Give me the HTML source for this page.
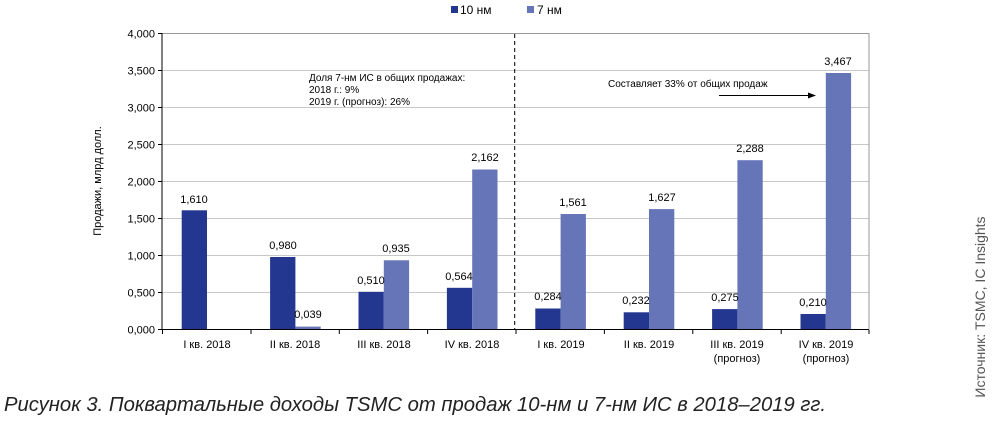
<!DOCTYPE html>
<html><head><meta charset="utf-8"><style>
body{margin:0;background:#fff;}
svg{display:block;font-family:"Liberation Sans",sans-serif;}
</style></head><body>
<svg width="1001" height="426" viewBox="0 0 1001 426">
<g stroke="#c8c8c8" stroke-width="1">
<line x1="162" y1="70.5" x2="869" y2="70.5"/><line x1="162" y1="107.5" x2="869" y2="107.5"/>
<line x1="162" y1="144.5" x2="869" y2="144.5"/><line x1="162" y1="181.5" x2="869" y2="181.5"/>
<line x1="162" y1="218.5" x2="869" y2="218.5"/><line x1="162" y1="255.5" x2="869" y2="255.5"/>
<line x1="162" y1="292.5" x2="869" y2="292.5"/>
</g>
<polyline points="162,33.5 869,33.5 869,329.5" fill="none" stroke="#999" stroke-width="1"/>
<line x1="514.7" y1="34" x2="514.7" y2="329" stroke="#000" stroke-dasharray="4,3" stroke-width="1"/>
<g id="bars">
<rect x="181.7" y="210.3" width="25.3" height="119.2" fill="#233690"/>
<rect x="270.1" y="257" width="25.3" height="72.5" fill="#233690"/>
<rect x="295.4" y="326.6" width="25.3" height="2.9" fill="#6674b8"/>
<rect x="358.5" y="291.8" width="25.3" height="37.7" fill="#233690"/>
<rect x="383.8" y="260.3" width="25.3" height="69.2" fill="#6674b8"/>
<rect x="446.9" y="287.8" width="25.3" height="41.7" fill="#233690"/>
<rect x="472.2" y="169.5" width="25.3" height="160" fill="#6674b8"/>
<rect x="535.3" y="308.5" width="25.3" height="21" fill="#233690"/>
<rect x="560.6" y="214" width="25.3" height="115.5" fill="#6674b8"/>
<rect x="623.7" y="312.3" width="25.3" height="17.2" fill="#233690"/>
<rect x="649" y="209.1" width="25.3" height="120.4" fill="#6674b8"/>
<rect x="712.1" y="309.1" width="25.3" height="20.4" fill="#233690"/>
<rect x="737.4" y="160.2" width="25.3" height="169.3" fill="#6674b8"/>
<rect x="800.5" y="314" width="25.3" height="15.5" fill="#233690"/>
<rect x="825.8" y="73" width="25.3" height="256.5" fill="#6674b8"/>
</g>
<g stroke="#000" stroke-width="1">
<line x1="162" y1="33" x2="162" y2="330"/><line x1="158" y1="329.5" x2="869" y2="329.5"/>
<line x1="158" y1="33.5" x2="162" y2="33.5"/><line x1="158" y1="70.5" x2="162" y2="70.5"/><line x1="158" y1="107.5" x2="162" y2="107.5"/><line x1="158" y1="144.5" x2="162" y2="144.5"/><line x1="158" y1="181.5" x2="162" y2="181.5"/><line x1="158" y1="218.5" x2="162" y2="218.5"/><line x1="158" y1="255.5" x2="162" y2="255.5"/><line x1="158" y1="292.5" x2="162" y2="292.5"/>
<line x1="162.5" y1="330" x2="162.5" y2="334"/><line x1="251" y1="330" x2="251" y2="334"/><line x1="339.3" y1="330" x2="339.3" y2="334"/><line x1="427.6" y1="330" x2="427.6" y2="334"/><line x1="516" y1="330" x2="516" y2="334"/><line x1="604.4" y1="330" x2="604.4" y2="334"/><line x1="692.8" y1="330" x2="692.8" y2="334"/><line x1="781.2" y1="330" x2="781.2" y2="334"/><line x1="869" y1="330" x2="869" y2="334"/>
</g>
<g font-size="11" fill="#000" text-anchor="end">
<text x="155" y="37.5">4,000</text><text x="155" y="74.5">3,500</text><text x="155" y="111.5">3,000</text><text x="155" y="148.5">2,500</text><text x="155" y="185.5">2,000</text><text x="155" y="222.5">1,500</text><text x="155" y="259.5">1,000</text><text x="155" y="296.5">0,500</text><text x="155" y="333.5">0,000</text>
</g>
<text transform="translate(101,181) rotate(-90)" font-size="11" text-anchor="middle">Продажи, млрд долл.</text>
<g font-size="11" text-anchor="middle">
<text x="194" y="203">1,610</text>
<text x="283" y="249">0,980</text><text x="308" y="318">0,039</text>
<text x="371" y="284">0,510</text><text x="396" y="252">0,935</text>
<text x="459" y="280">0,564</text><text x="485" y="161">2,162</text>
<text x="548" y="300">0,284</text><text x="573" y="206">1,561</text>
<text x="636" y="304">0,232</text><text x="662" y="201">1,627</text>
<text x="725" y="301">0,275</text><text x="750" y="152">2,288</text>
<text x="813" y="306">0,210</text><text x="838" y="65">3,467</text>
</g>
<g font-size="11" text-anchor="middle">
<text x="207" y="348">I кв. 2018</text><text x="295" y="348">II кв. 2018</text><text x="384" y="348">III кв. 2018</text><text x="472" y="348">IV кв. 2018</text>
<text x="561" y="348">I кв. 2019</text><text x="649" y="348">II кв. 2019</text><text x="737" y="348">III кв. 2019</text><text x="737" y="362">(прогноз)</text><text x="826" y="348">IV кв. 2019</text><text x="826" y="362">(прогноз)</text>
</g>
<g font-size="10">
<text x="309" y="81">Доля 7-нм ИС в общих продажах:</text>
<text x="309" y="93">2018 г.: 9%</text>
<text x="309" y="105">2019 г. (прогноз): 26%</text>
<text x="608" y="87">Составляет 33% от общих продаж</text>
</g>
<line x1="719" y1="95.5" x2="812" y2="95.5" stroke="#000" stroke-width="1"/>
<polygon points="816,95.5 808,92.5 808,98.5" fill="#000"/>
<rect x="451" y="6" width="7" height="7" fill="#233690"/>
<text x="460" y="14" font-size="12">10 нм</text>
<rect x="527" y="6" width="7" height="7" fill="#6674b8"/>
<text x="537" y="14" font-size="12">7 нм</text>
<text transform="translate(985,307) rotate(-90)" font-size="14" fill="#555" text-anchor="middle">Источник: TSMC, IC Insights</text>
<text x="4" y="411" font-size="20" font-style="italic" fill="#222" textLength="822" lengthAdjust="spacingAndGlyphs">Рисунок 3. Поквартальные доходы TSMC от продаж 10-нм и 7-нм ИС в 2018–2019 гг.</text>
</svg>
</body></html>
